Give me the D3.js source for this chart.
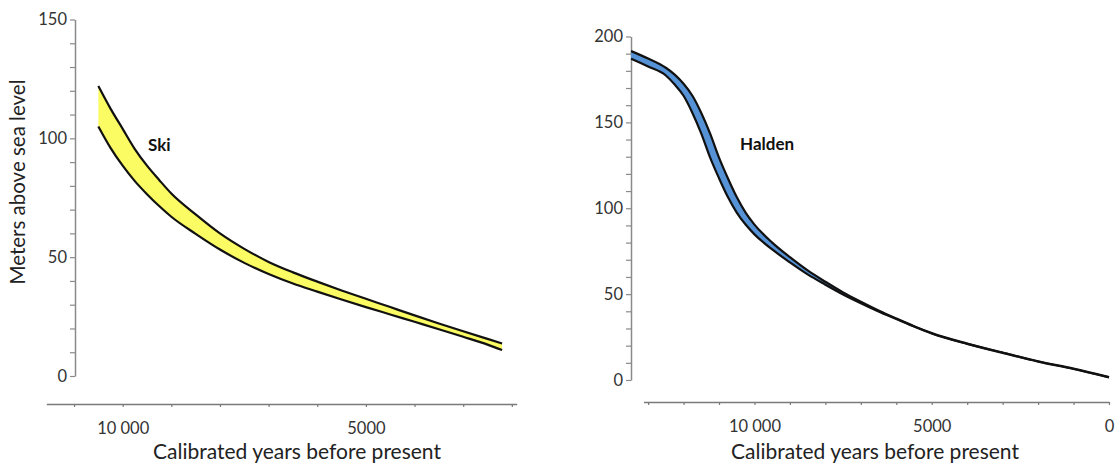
<!DOCTYPE html>
<html>
<head>
<meta charset="utf-8">
<script src="https://cdn.jsdelivr.net/npm/d3@7/dist/d3.min.js"></script>
<style>
  body { margin: 0; background: #fff; }
  text { font-family: Lato, "Noto Sans", sans-serif; }
</style>
</head>
<body>
<div id="chart"></div>
<script>
// Ski: years before present, upper and lower band limit (m a.s.l.)
const skiYears = [10500, 10250, 10000, 9750, 9500, 9250, 9000, 8500, 8000, 7500, 7000, 6500, 6000, 5500, 5000, 4500, 4000, 3500, 3000, 2500, 2200]
const skiUpper = [122, 112.5, 104, 95.5, 88.5, 82.5, 76.8, 68, 60, 53.5, 48, 43.6, 39.7, 36, 32.5, 29, 25.5, 22.1, 18.8, 15.6, 13.7]
const skiLower = [105, 96, 88.5, 82, 76.5, 71.5, 67, 59.8, 53.2, 47.6, 42.9, 38.9, 35.5, 32.2, 29, 25.9, 22.8, 19.7, 16.5, 13.2, 10.9]

// Halden
const haldenYears = [13480, 13000, 12500, 12250, 12000, 11750, 11500, 11250, 11000, 10750, 10500, 10250, 10000, 9500, 9000, 8500, 8000, 7500, 7000, 6500, 6000, 5500, 5000, 4000, 3000, 2000, 1000, 0]
const haldenUpper = [191.5, 187.2, 181.8, 177.8, 172.5, 165.5, 155.5, 143.5, 129.5, 117.5, 106.5, 97.5, 90.5, 80, 71.5, 63.8, 57.2, 51, 45.6, 40.5, 35.8, 31.3, 27.3, 21.2, 16, 10.9, 6.6, 1.7]
const haldenLower = [187, 182.5, 177.3, 172, 165.5, 155.5, 143.5, 129.5, 117.5, 106.5, 97.5, 90.5, 84.8, 76, 68.5, 61.5, 55.5, 49.8, 44.7, 39.9, 35.5, 31.1, 27.1, 21, 15.8, 10.7, 6.4, 1.5]

// axis ticks
const skiYTicks = [0, 10, 20, 30, 40, 50, 60, 70, 80, 90, 100, 110, 120, 130, 140, 150]
const skiYLabels = [0, 50, 100, 150]
const skiXTicks = [11000, 10000, 9000, 8000, 7000, 6000, 5000, 4000, 3000, 2000]
const skiXLabels = [10000, 5000]

const haldenYTicks = [0, 10, 20, 30, 40, 50, 60, 70, 80, 90, 100, 110, 120, 130, 140, 150, 160, 170, 180, 190, 200]
const haldenYLabels = [0, 50, 100, 150, 200]
const haldenXTicks = [13000, 12000, 11000, 10000, 9000, 8000, 7000, 6000, 5000, 4000, 3000, 2000, 1000, 0]
const haldenXLabels = [10000, 5000, 0]

const width = 1119, height = 466

const svg = d3.select("#chart").append("svg")
    .attr("width", width)
    .attr("height", height)

const fmt = d => d >= 10000 ? d3.format(",")(d).replace(",", " ") : String(d)

function panel(o) {
  const x = d3.scaleLinear().domain(o.xDomain).range(o.xRange)
  const y = d3.scaleLinear().domain(o.yDomain).range(o.yRange)
  const g = svg.append("g")

  // y axis
  const ya = g.append("g")
      .attr("transform", "translate(" + o.xAxisPos + ",0)")
      .call(d3.axisLeft(y).tickValues(o.yTicks).tickSize(5).tickSizeOuter(0).tickPadding(3)
        .tickFormat(d => o.yLabels.includes(d) ? d : ""))
  ya.select(".domain").attr("stroke", "#8a8a8a").attr("stroke-width", 1.5)
  ya.selectAll(".tick line").attr("stroke", "#8a8a8a").attr("stroke-width", 1.2)
  ya.selectAll("text").attr("fill", "#333").style("font-size", "16.5px")

  // x axis
  const xa = g.append("g")
      .attr("transform", "translate(0," + o.yAxisPos + ")")
      .call(d3.axisBottom(x).tickValues(o.xTicks).tickSize(3).tickSizeOuter(0).tickPadding(15)
        .tickFormat(d => o.xLabels.includes(d) ? fmt(d) : ""))
  xa.select(".domain").attr("stroke", "#7a7a7a").attr("stroke-width", 1.5)
  xa.selectAll(".tick line").attr("stroke", "#7a7a7a").attr("stroke-width", 1.2)
  xa.selectAll("text").attr("fill", "#333").style("font-size", "16.5px")

  const rows = o.years.map((yr, i) => ({yr: yr, hi: o.upper[i], lo: o.lower[i]}))

  const area = d3.area()
      .x(d => x(d.yr))
      .y0(d => y(d.lo))
      .y1(d => y(d.hi))
      .curve(d3.curveMonotoneX)

  g.append("path")
      .datum(rows)
      .attr("d", area)
      .attr("fill", o.fill)

  const hiLine = d3.line().x(d => x(d.yr)).y(d => y(d.hi)).curve(d3.curveMonotoneX)
  const loLine = d3.line().x(d => x(d.yr)).y(d => y(d.lo)).curve(d3.curveMonotoneX)

  g.selectAll(".edge")
      .data([hiLine, loLine])
      .join("path")
      .attr("class", "edge")
      .attr("d", f => f(rows))
      .attr("fill", "none")
      .attr("stroke", "#111")
      .attr("stroke-width", 2.2)

  g.append("text")
      .attr("x", o.name.x)
      .attr("y", o.name.y)
      .attr("font-weight", "bold")
      .style("font-size", "17px")
      .attr("fill", "#111")
      .text(o.name.text)

  g.append("text")
      .attr("x", o.titleX)
      .attr("y", 459)
      .attr("text-anchor", "middle")
      .style("font-size", "21px")
      .attr("fill", "#222")
      .text("Calibrated years before present")
}

panel({
  years: skiYears, upper: skiUpper, lower: skiLower,
  xDomain: [11570, 1900], xRange: [46.3, 516.7],
  yDomain: [0, 150], yRange: [376, 19.5],
  xAxisPos: 75, yAxisPos: 404,
  yTicks: skiYTicks, yLabels: skiYLabels,
  xTicks: skiXTicks, xLabels: skiXLabels,
  fill: "#fbfb63",
  name: {text: "Ski", x: 148, y: 151},
  titleX: 297
})

panel({
  years: haldenYears, upper: haldenUpper, lower: haldenLower,
  xDomain: [13130, 0], xRange: [643.5, 1109],
  yDomain: [0, 200], yRange: [380, 36.5],
  xAxisPos: 631, yAxisPos: 402,
  yTicks: haldenYTicks, yLabels: haldenYLabels,
  xTicks: haldenXTicks, xLabels: haldenXLabels,
  fill: "#5592d6",
  name: {text: "Halden", x: 740, y: 150},
  titleX: 875
})

svg.append("text")
    .attr("transform", "translate(25,182) rotate(-90)")
    .attr("text-anchor", "middle")
    .style("font-size", "20.5px")
    .attr("fill", "#222")
    .text("Meters above sea level")
</script>
</body>
</html>
